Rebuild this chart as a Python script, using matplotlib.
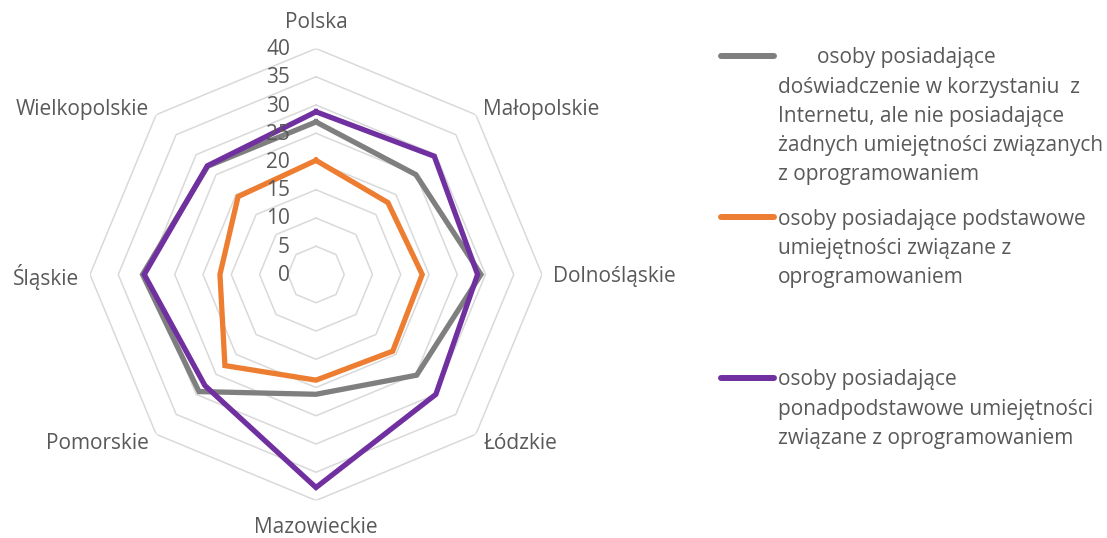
import numpy as np
import matplotlib.pyplot as plt

plt.rcParams['font.family'] = ['Open Sans', 'DejaVu Sans']

categories = ['Polska', 'Małopolskie', 'Dolnośląskie', 'Łódzkie',
              'Mazowieckie', 'Pomorskie', 'Śląskie', 'Wielkopolskie']
experience_only = [27.0, 25.0, 29.2, 25.2, 21.2, 29.3, 30.7, 27.1]
basic_skills = [20.2, 18.0, 18.8, 19.2, 18.7, 22.8, 17.0, 19.5]
advanced_skills = [28.8, 29.6, 28.6, 30.0, 37.7, 27.8, 30.4, 27.2]
r_ticks = [0, 5, 10, 15, 20, 25, 30, 35, 40]

legend_lines = [
    ['osoby posiadające',
     'doświadczenie w korzystaniu  z',
     'Internetu, ale nie posiadające',
     'żadnych umiejętności związanych',
     'z oprogramowaniem'],
    ['osoby posiadające podstawowe',
     'umiejętności związane z',
     'oprogramowaniem'],
    ['osoby posiadające',
     'ponadpodstawowe umiejętności',
     'związane z oprogramowaniem'],
]
colors = ['#7f7f7f', '#ed7d31', '#7030a0']
txt = '#595959'
fs = 15

W, H = 1107, 538
fig = plt.figure(figsize=(W / 100, H / 100), dpi=100)
cx, cy, rad = 316, 274.5, 226
ax = fig.add_axes([(cx - rad) / W, (H - cy - rad) / H, 2 * rad / W, 2 * rad / H],
                  projection='polar')
ax.set_theta_zero_location('N')
ax.set_theta_direction(-1)
ax.set_ylim(0, 40)
ax.grid(False)
ax.spines['polar'].set_visible(False)
ax.set_xticks([])
ax.set_yticks([])

n = len(categories)
theta = np.arange(n) * 2 * np.pi / n
theta_c = np.append(theta, theta[0])

# octagon grid
for r in r_ticks[1:]:
    ax.plot(theta_c, [r] * (n + 1), color='#d9d9d9', lw=1.1, zorder=1)

for vals, c in zip([experience_only, basic_skills, advanced_skills], colors):
    v = np.append(vals, vals[0])
    ax.plot(theta_c, v, color=c, lw=3.8, solid_joinstyle='miter', zorder=3)

for r in r_ticks:
    ax.annotate(str(r), xy=(0, r), xytext=(-26, -1), textcoords='offset pixels',
                ha='right', va='center', fontsize=fs, color=txt, annotation_clip=False)

for t, name in zip(theta, categories):
    s = np.sin(t)
    dy = -2
    if abs(s) < 1e-6:
        ha, r = 'center', 45.0
        if np.cos(t) < 0:
            dy = 1  # keep the bottom label inside the figure
    else:
        ha, r = ('left' if s > 0 else 'right'), 41.9
    ax.annotate(name, xy=(t, r), xytext=(0, dy), textcoords='offset pixels',
                ha=ha, va='center', fontsize=fs, color=txt, annotation_clip=False)

# legend drawn by hand so the marker sits on the first text line
lax = fig.add_axes([0, 0, 1, 1])
lax.set_xlim(0, W)
lax.set_ylim(H, 0)
lax.axis('off')
starts = [56, 217, 378]
step = 29.2
for lines, y0, c in zip(legend_lines, starts, colors):
    lax.plot([721, 774], [y0, y0], color=c, lw=4.3, solid_capstyle='round')
    for i, line in enumerate(lines):
        x = 817 if (c == colors[0] and i == 0) else 778
        lax.text(x, y0 + 2 + i * step, line, ha='left', va='center', fontsize=fs, color=txt)

fig.savefig('out.png', dpi=100)
